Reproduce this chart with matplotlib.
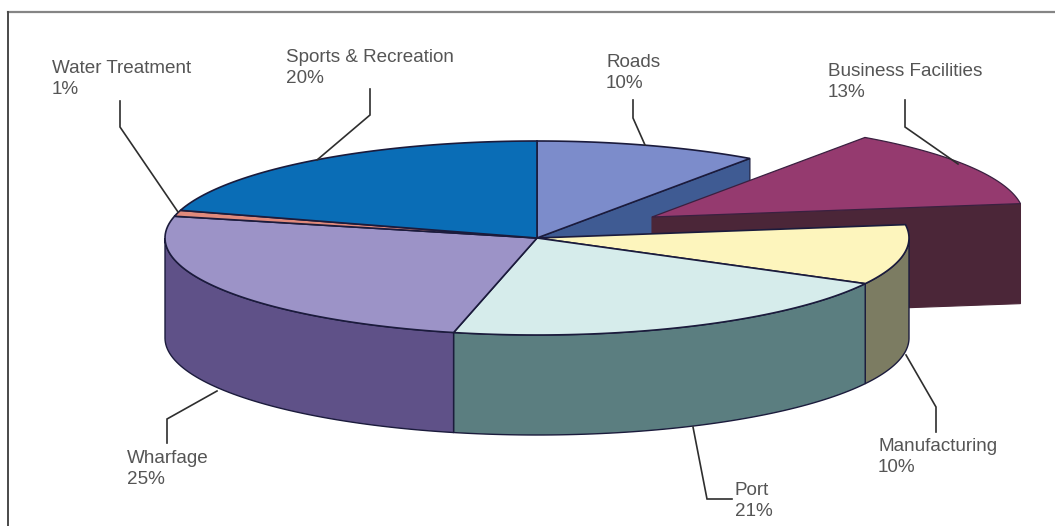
"""3D exploded pie of land use shares, drawn by hand with polygons."""
import numpy as np
import matplotlib
matplotlib.use("Agg")
import matplotlib.pyplot as plt
from matplotlib.patches import Polygon

plt.rcParams["font.family"] = ["Liberation Sans", "DejaVu Sans"]

# clockwise from 12 o'clock, labels show these rounded
CATEGORIES = ["Roads", "Business Facilities", "Manufacturing", "Port",
              "Wharfage", "Water Treatment", "Sports & Recreation"]
SHARES = [9.7, 13.1, 10.0, 20.8, 25.0, 1.0, 20.4]

TOP_COLORS = ["#7C8CCB", "#953A6F", "#FDF5BD", "#D6ECEB", "#9C93C7", "#E08A7C", "#0A6DB6"]
WALL_COLORS = ["#3F5B93", "#4B2638", "#7C7C62", "#5B7E80", "#5F5188", "#A05A50", "#084A80"]

# pie geometry in pixels
CX, CY = 537, 238
RX, RY = 372, 97
DEPTH = 100
EXPLODE = {"Business Facilities": (115, -21)}
EDGE = "#1B1B3C"

LABEL_POS = {
    "Roads": (606, 73),
    "Business Facilities": (828, 82),
    "Manufacturing": (878, 457),
    "Port": (735, 501),
    "Wharfage": (127, 469),
    "Water Treatment": (52, 79),
    "Sports & Recreation": (286, 68),
}
LEADERS = {
    "Roads": [(633, 100), (633, 118), (645, 145)],
    "Business Facilities": [(905, 100), (905, 127), (958, 164)],
    "Manufacturing": [(906, 355), (936, 407), (936, 432)],
    "Port": [(693, 427), (707, 499), (732, 499)],
    "Wharfage": [(217, 391), (167, 419), (167, 443)],
    "Water Treatment": [(120, 101), (120, 127), (178, 212)],
    "Sports & Recreation": [(370, 89), (370, 115), (317, 160)],
}


def rim(a0, a1, dx=0, dy=0, n=60):
    """Points on the ellipse, angles in degrees clockwise from the top."""
    t = np.radians(np.linspace(a0, a1, n))
    return np.column_stack([CX + dx + RX * np.sin(t), CY + dy - RY * np.cos(t)])


fig = plt.figure(figsize=(10.55, 5.26), dpi=100)
ax = fig.add_axes([0, 0, 1, 1])
ax.set_xlim(0, 1055)
ax.set_ylim(526, 0)
ax.axis("off")

# frame, only top and left edges are in the picture
ax.plot([8, 1060], [12, 12], color="#858585", lw=1.6, zorder=1)
ax.plot([8, 8], [12, 530], color="#4A4A4A", lw=1.4, zorder=1)

edges = np.cumsum([0] + SHARES) * 3.6
wedges = list(zip(CATEGORIES, edges[:-1], edges[1:], TOP_COLORS, WALL_COLORS))

# cut face of Roads, mostly hidden later
for name, a0, a1, top, wall in wedges:
    if name == "Roads":
        end = rim(a1, a1, n=1)[0]
        ax.add_patch(Polygon([(CX, CY), end, end + (0, DEPTH), (CX, CY + DEPTH)],
                             fc=wall, ec=EDGE, lw=0.8, zorder=2))

# exploded slice goes behind the body
for name, a0, a1, top, wall in wedges:
    if name in EXPLODE:
        dx, dy = EXPLODE[name]
        apex = np.array([CX + dx, CY + dy])
        end = rim(a1, a1, dx, dy, n=1)[0]
        ax.add_patch(Polygon([apex, end, end + (0, DEPTH), apex + (0, DEPTH)],
                             fc=wall, ec=wall, lw=0.8, zorder=3))
        ax.add_patch(Polygon(np.vstack([apex, rim(a0, a1, dx, dy)]),
                             fc=top, ec="#3A2040", lw=0.9, zorder=4))

# outer walls of the body, only the front half shows
for name, a0, a1, top, wall in wedges:
    if name in EXPLODE:
        continue
    lo, hi = max(a0, 90), min(a1, 270)
    if lo >= hi:
        continue
    upper = rim(lo, hi)
    ax.add_patch(Polygon(np.vstack([upper, (upper + (0, DEPTH))[::-1]]),
                         fc=wall, ec=EDGE, lw=1.0, zorder=5))

# tops of the body
for name, a0, a1, top, wall in wedges:
    if name in EXPLODE:
        continue
    ax.add_patch(Polygon(np.vstack([(CX, CY), rim(a0, a1)]),
                         fc=top, ec=EDGE, lw=1.2, zorder=6))

# leaders and labels
for name, share in zip(CATEGORIES, SHARES):
    xs, ys = zip(*LEADERS[name])
    ax.plot(xs, ys, color="#2E2E2E", lw=1.2, zorder=7, solid_joinstyle="miter")
    x, y = LABEL_POS[name]
    ax.text(x, y, f"{name}\n{round(share)}%", ha="left", va="center", fontsize=13.6,
            color="#555555", linespacing=1.27, zorder=8)

fig.savefig("out.png", dpi=100)
